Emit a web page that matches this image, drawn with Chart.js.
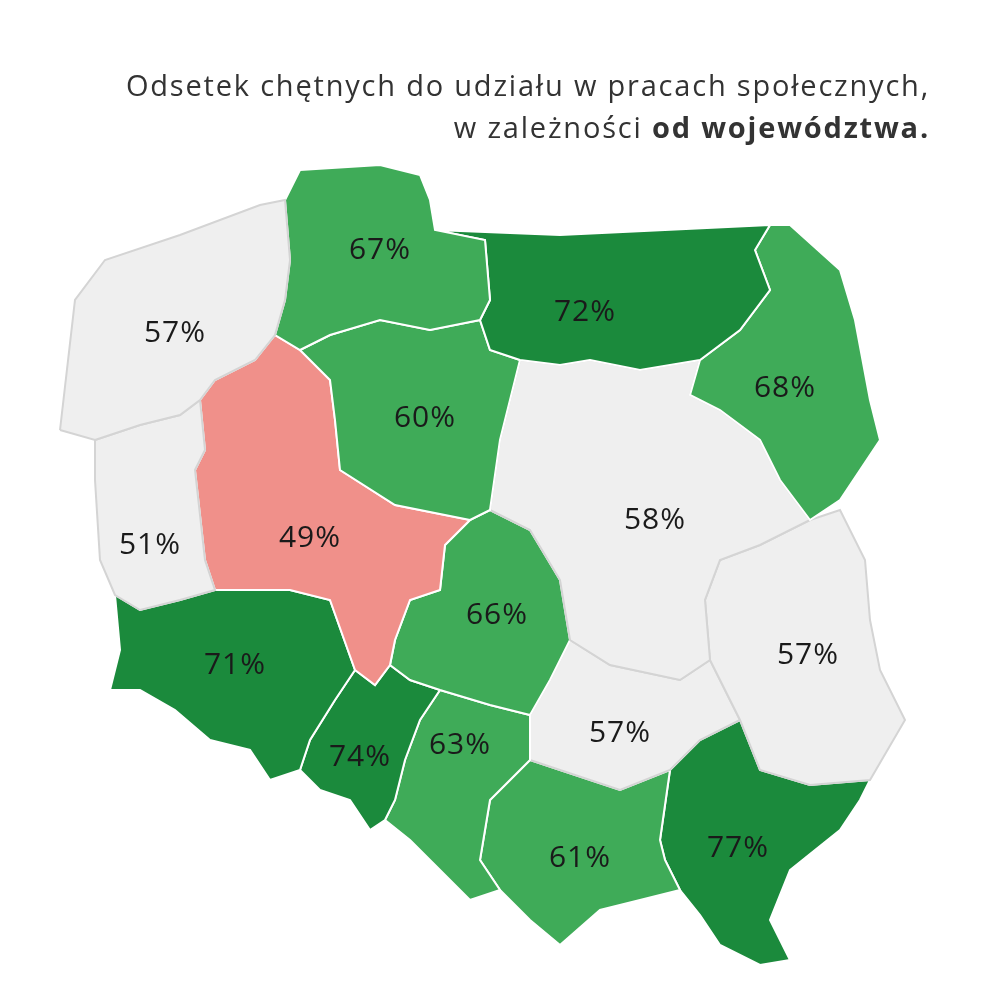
<!DOCTYPE html>
<html>
<head>
<meta charset="utf-8">
<script src="https://cdn.jsdelivr.net/npm/chart.js@4"></script>
<style>
  html, body { margin: 0; padding: 0; background: #fff; }
  canvas { display: block; }
</style>
</head>
<body>
<canvas id="map" width="1000" height="1000"></canvas>
<script>
// Data: regions and their share (%)
const regions = ['zachodniopomorskie', 'pomorskie', 'warmińsko-mazurskie', 'podlaskie',
  'kujawsko-pomorskie', 'lubuskie', 'wielkopolskie', 'mazowieckie', 'łódzkie',
  'lubelskie', 'dolnośląskie', 'opolskie', 'śląskie', 'świętokrzyskie',
  'małopolskie', 'podkarpackie'];
const values = [57, 67, 72, 68, 60, 51, 49, 58, 66, 57, 71, 74, 63, 57, 61, 77];

// Approximate outlines (map units, 0..1000)
const outlines = [
  [[60,430],[75,300],[105,260],[180,235],[260,205],[285,200],[290,260],[285,300],[275,335],[255,360],[215,380],[200,400],[180,415],[140,425],[95,440]],
  [[285,200],[300,170],[380,165],[420,175],[430,200],[435,230],[485,240],[490,300],[480,320],[430,330],[380,320],[330,335],[300,350],[275,335],[285,300],[290,260]],
  [[435,230],[560,235],[770,225],[755,250],[770,290],[740,330],[700,360],[640,370],[590,360],[560,365],[520,360],[490,350],[480,320],[490,300],[485,240]],
  [[770,225],[790,225],[840,270],[855,320],[870,400],[880,440],[860,470],[840,500],[810,520],[780,480],[760,440],[720,410],[690,395],[700,360],[740,330],[770,290],[755,250]],
  [[300,350],[330,335],[380,320],[430,330],[480,320],[490,350],[520,360],[510,400],[500,440],[490,510],[470,520],[395,505],[340,470],[335,420],[330,380]],
  [[95,440],[140,425],[180,415],[200,400],[205,450],[195,470],[205,560],[215,590],[180,600],[140,610],[115,595],[100,560],[95,480]],
  [[200,400],[215,380],[255,360],[275,335],[300,350],[330,380],[335,420],[340,470],[395,505],[470,520],[445,545],[440,590],[410,600],[395,640],[390,665],[375,685],[355,670],[330,600],[290,590],[240,590],[215,590],[205,560],[195,470],[205,450]],
  [[490,510],[500,440],[510,400],[520,360],[560,365],[590,360],[640,370],[700,360],[690,395],[720,410],[760,440],[780,480],[810,520],[760,545],[720,560],[705,600],[710,660],[680,680],[610,665],[570,640],[560,580],[530,530]],
  [[470,520],[490,510],[530,530],[560,580],[570,640],[550,680],[530,715],[490,705],[440,690],[410,680],[390,665],[395,640],[410,600],[440,590],[445,545]],
  [[810,520],[840,510],[865,560],[870,620],[880,670],[905,720],[870,780],[810,785],[760,770],[740,720],[710,660],[705,600],[720,560],[760,545]],
  [[115,595],[140,610],[180,600],[215,590],[240,590],[290,590],[330,600],[355,670],[335,700],[310,740],[300,770],[270,780],[250,750],[210,740],[175,710],[140,690],[110,690],[120,650]],
  [[355,670],[375,685],[390,665],[410,680],[440,690],[420,720],[405,760],[395,800],[385,820],[370,830],[350,800],[320,790],[300,770],[310,740],[335,700]],
  [[440,690],[490,705],[530,715],[530,760],[490,800],[480,860],[500,890],[470,900],[440,870],[410,840],[385,820],[395,800],[405,760],[420,720]],
  [[570,640],[610,665],[680,680],[710,660],[740,720],[700,740],[670,770],[620,790],[560,770],[530,760],[530,715],[550,680]],
  [[530,760],[560,770],[620,790],[670,770],[660,840],[665,860],[680,890],[640,900],[600,910],[560,945],[530,920],[500,890],[480,860],[490,800]],
  [[740,720],[760,770],[810,785],[870,780],[860,800],[840,830],[790,870],[770,920],[790,960],[760,965],[720,945],[700,915],[680,890],[665,860],[660,840],[670,770],[700,740]]
];
const labelPos = [[175,333],[380,250],[585,312],[785,388],[425,418],[150,545],[310,538],[655,520],
  [497,615],[808,655],[235,665],[360,757],[460,745],[620,733],[580,858],[738,848]];

function colorFor(v) {
  if (v < 50) return '#f0908a';
  if (v < 60) return '#efefef';
  if (v < 70) return '#3fab58';
  return '#1b8a3c';
}

const datasets = outlines.map((pts, i) => ({
  label: regions[i],
  data: pts.concat([pts[0]]).map(p => ({ x: p[0], y: p[1] })),
  showLine: true,
  fill: 'shape',
  backgroundColor: colorFor(values[i]),
  borderColor: values[i] >= 50 && values[i] < 60 ? '#d4d4d4' : '#ffffff',
  borderWidth: 2,
  pointRadius: 0,
  tension: 0
}));

const labelsPlugin = {
  id: 'labels',
  afterDatasetsDraw(chart) {
    const { ctx, scales: { x, y } } = chart;
    ctx.save();
    ctx.fillStyle = '#1a1a1a';
    ctx.font = '30px "Open Sans", sans-serif';
    ctx.letterSpacing = '1px';
    ctx.textAlign = 'center';
    ctx.textBaseline = 'middle';
    values.forEach((v, i) => {
      ctx.fillText(v + '%', x.getPixelForValue(labelPos[i][0]), y.getPixelForValue(labelPos[i][1]));
    });
    // title
    ctx.fillStyle = '#333';
    ctx.textAlign = 'right';
    ctx.letterSpacing = '1.8px';
    ctx.font = '29px "Open Sans", sans-serif';
    ctx.fillText('Odsetek chętnych do udziału w pracach społecznych,', 930, 88);
    ctx.font = 'bold 29px "Open Sans", sans-serif';
    const bold = 'od województwa.';
    ctx.fillText(bold, 930, 130);
    const bw = ctx.measureText(bold).width;
    ctx.font = '29px "Open Sans", sans-serif';
    ctx.fillText('w zależności ', 930 - bw, 130);
    ctx.restore();
  }
};

new Chart(document.getElementById('map').getContext('2d'), {
  type: 'scatter',
  data: { datasets },
  options: {
    responsive: false,
    animation: false,
    layout: { padding: 0 },
    scales: {
      x: { display: false, min: 0, max: 1000 },
      y: { display: false, min: 0, max: 1000, reverse: true }
    },
    plugins: { legend: { display: false }, tooltip: { enabled: false } }
  },
  plugins: [labelsPlugin]
});
</script>
</body>
</html>
